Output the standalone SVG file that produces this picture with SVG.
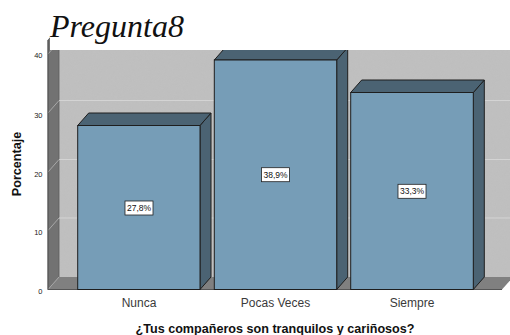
<svg xmlns="http://www.w3.org/2000/svg" width="510" height="335" viewBox="0 0 510 335">
<defs>
<style>
.front{fill:#769db7;stroke:#1e1e1e;stroke-width:1}
.shade{fill:#4b6373;stroke:#1e1e1e;stroke-width:1;stroke-linejoin:round}
.grid{stroke:#d4d4d4;stroke-width:1;fill:none}
.gridl{stroke:#a8a8a8;stroke-width:1;fill:none}
.tick{font-family:"Liberation Sans",Arial,sans-serif;font-size:7.5px;fill:#222;text-anchor:end}
.cat{font-family:"Liberation Sans",Arial,sans-serif;font-size:12px;fill:#3a3a3a;text-anchor:middle}
.axt{font-family:"Liberation Sans",Arial,sans-serif;font-size:12.6px;font-weight:bold;fill:#111;text-anchor:middle}
.lblbox{fill:#fff;stroke:#222;stroke-width:0.8}
.lbl{font-family:"Liberation Sans",Arial,sans-serif;font-size:8.5px;fill:#111;text-anchor:middle}
</style>
<filter id="grain" x="0" y="0" width="100%" height="100%">
<feTurbulence type="fractalNoise" baseFrequency="0.9" numOctaves="2" seed="3" result="n"/>
<feColorMatrix in="n" type="matrix" values="0 0 0 0 0.5  0 0 0 0 0.5  0 0 0 0 0.5  0 0 0 0.18 0" result="g"/>
<feComposite in="g" in2="SourceGraphic" operator="in" result="gi"/>
<feMerge><feMergeNode in="SourceGraphic"/><feMergeNode in="gi"/></feMerge>
</filter>
</defs>
<rect width="510" height="335" fill="#fff"/>
<g id="plot-area">
<rect x="59" y="28" width="451" height="249.5" fill="#c0c0c0" filter="url(#grain)"/>
<polygon points="48,289.5 59,277 59,28 48,40" fill="#727272" stroke="#5a5a5a" stroke-width="0.8"/>
<polygon points="48,289.5 59,277 513,277 502,289.5" fill="#808080"/>
<g id="gridlines">
<line class="grid" x1="59" y1="218" x2="510" y2="218"/>
<line class="grid" x1="59" y1="159.5" x2="510" y2="159.5"/>
<line class="grid" x1="59" y1="100.5" x2="510" y2="100.5"/>
<line class="grid" x1="59" y1="41.5" x2="510" y2="41.5"/>
<line class="gridl" x1="48" y1="230.5" x2="59" y2="218"/>
<line class="gridl" x1="48" y1="172" x2="59" y2="159.5"/>
<line class="gridl" x1="48" y1="113" x2="59" y2="100.5"/>
<line class="gridl" x1="48" y1="54" x2="59" y2="41.5"/>
<line class="gridl" x1="48" y1="289.5" x2="59" y2="277"/>
</g>
<line x1="48" y1="289.5" x2="502" y2="289.5" stroke="#555" stroke-width="1"/>
<line x1="48" y1="40" x2="48" y2="289.5" stroke="#555" stroke-width="1"/>
</g>
<g id="bar-nunca">
<polygon class="shade" points="200,125.5 211,113 211,277 200,289.5"/>
<polygon class="shade" points="77.7,125.5 88.7,113 211,113 200,125.5"/>
<rect class="front" x="77.7" y="125.5" width="122.3" height="164"/>
</g>
<g id="bar-pocas">
<polygon class="shade" points="336.7,60 347.7,47.5 347.7,277 336.7,289.5"/>
<polygon class="shade" points="214.3,60 225.3,47.5 347.7,47.5 336.7,60"/>
<rect class="front" x="214.3" y="60" width="122.4" height="229.5"/>
</g>
<g id="bar-siempre">
<polygon class="shade" points="473.3,92.5 484.3,80 484.3,277 473.3,289.5"/>
<polygon class="shade" points="350.7,92.5 361.7,80 484.3,80 473.3,92.5"/>
<rect class="front" x="350.7" y="92.5" width="122.6" height="197"/>
</g>
<rect x="50" y="0" width="460" height="50" fill="#fff"/>
<g id="title">
<text x="50" y="37" font-family="'Liberation Serif','Times New Roman',serif" font-style="italic" font-size="32" fill="#111">Pregunta8</text>
</g>
<g id="y-axis">
<text class="tick" x="42.5" y="293.5">0</text>
<text class="tick" x="42.5" y="235">10</text>
<text class="tick" x="42.5" y="176.5">20</text>
<text class="tick" x="42.5" y="117.5">30</text>
<text class="tick" x="42.5" y="58">40</text>
<text class="axt" transform="translate(20.5,164) rotate(-90)">Porcentaje</text>
</g>
<g id="x-axis">
<text class="cat" x="139" y="307">Nunca</text>
<text class="cat" x="275.5" y="307">Pocas Veces</text>
<text class="cat" x="412" y="307">Siempre</text>
<text class="axt" x="275" y="332.5">¿Tus compañeros son tranquilos y cariñosos?</text>
</g>
<g id="value-labels">
<g id="label-nunca"><rect class="lblbox" x="125" y="201" width="28" height="14"/><text class="lbl" x="139" y="211">27,8%</text></g>
<g id="label-pocas"><rect class="lblbox" x="261.5" y="167.7" width="28" height="14"/><text class="lbl" x="275.5" y="177.7">38,9%</text></g>
<g id="label-siempre"><rect class="lblbox" x="398" y="184.3" width="28" height="14"/><text class="lbl" x="412" y="194.3">33,3%</text></g>
</g>
<g id="connectors"></g>
</svg>
